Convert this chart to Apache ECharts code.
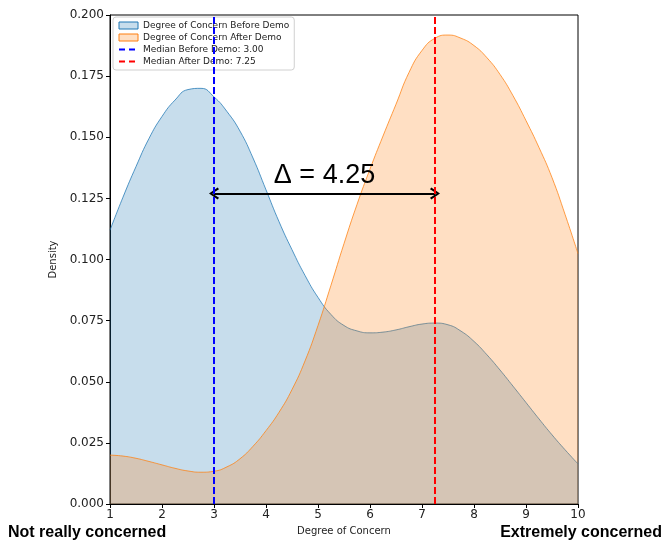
<!DOCTYPE html>
<html>
<head>
<meta charset="utf-8">
<script src="https://cdn.jsdelivr.net/npm/echarts@6/dist/echarts.min.js"></script>
<style>
html,body{margin:0;padding:0;background:#fff;}
#chart{width:663px;height:541px;}
</style>
</head>
<body>
<div id="chart"></div>
<script>
// Data
const concernLevels = [1, 1.25, 1.5, 1.75, 2, 2.25, 2.5, 2.75, 3, 3.25, 3.5, 3.75, 4, 4.25, 4.5, 4.75, 5, 5.25, 5.5, 5.75, 6, 6.25, 6.5, 6.75, 7, 7.25, 7.5, 7.75, 8, 8.25, 8.5, 8.75, 9, 9.25, 9.5, 9.75, 10];
const densityBefore = [0.1120, 0.1255, 0.1380, 0.1495, 0.1585, 0.1652, 0.1695, 0.1700, 0.1665, 0.1605, 0.1525, 0.1415, 0.1285, 0.1155, 0.1040, 0.0935, 0.0845, 0.0775, 0.0730, 0.0708, 0.0700, 0.0703, 0.0712, 0.0725, 0.0736, 0.0740, 0.0733, 0.0707, 0.0665, 0.0610, 0.0548, 0.0482, 0.0415, 0.0348, 0.0283, 0.0222, 0.0164];
const densityAfter  = [0.0200, 0.0196, 0.0187, 0.0174, 0.0160, 0.0146, 0.0135, 0.0130, 0.0134, 0.0152, 0.0185, 0.0236, 0.0300, 0.0375, 0.0468, 0.0585, 0.0730, 0.0895, 0.1065, 0.1225, 0.1370, 0.1505, 0.1635, 0.1765, 0.1855, 0.1905, 0.1918, 0.1905, 0.1875, 0.1825, 0.1757, 0.1670, 0.1568, 0.1458, 0.1335, 0.1185, 0.1024];
const medianBefore = 3.00;
const medianAfter = 7.25;
const deltaLabel = 'Δ = 4.25';
const arrowLevel = 0.127;
const seriesNames = ['Degree of Concern Before Demo', 'Degree of Concern After Demo', 'Median Before Demo: 3.00', 'Median After Demo: 7.25'];
const xRange = [1, 10];
const yRange = [0, 0.2];

const chart = echarts.init(document.getElementById('chart'));
const chevron = 'path://M5,0 L10,8 L8.6,9.2 L5,3 L1.4,9.2 L0,8 Z';

const option = {
  backgroundColor: '#fff',
  animation: false,
  textStyle: { fontFamily: 'DejaVu Sans', color: '#000' },
  grid: { left: 110, right: 85, top: 15, bottom: 34, show: true, borderColor: '#000', borderWidth: 1, backgroundColor: 'transparent' },
  legend: {
    left: 113, top: 17, orient: 'vertical',
    itemWidth: 19, itemHeight: 7, itemGap: 3,
    padding: [4, 5, 4, 5],
    borderColor: '#d0d0d0', borderWidth: 1, borderRadius: 3,
    backgroundColor: 'rgba(255,255,255,0.85)',
    textStyle: { fontSize: 9, fontFamily: 'DejaVu Sans', color: '#222' },
    data: [
      { name: seriesNames[0], icon: 'rect', itemStyle: { color: 'rgba(31,119,180,0.25)', borderColor: '#1f77b4', borderWidth: 1 } },
      { name: seriesNames[1], icon: 'rect', itemStyle: { color: 'rgba(255,127,14,0.25)', borderColor: '#ff7f0e', borderWidth: 1 } },
      { name: seriesNames[2], itemStyle: { opacity: 0 }, lineStyle: { color: '#0000ff', width: 2, type: [6, 4] } },
      { name: seriesNames[3], itemStyle: { opacity: 0 }, lineStyle: { color: '#ff0000', width: 2, type: [6, 4] } }
    ]
  },
  xAxis: {
    type: 'value', min: xRange[0], max: xRange[1], interval: 1,
    name: 'Degree of Concern', nameLocation: 'middle', nameGap: 22,
    nameTextStyle: { fontSize: 10, color: '#222' },
    axisLine: { show: true, lineStyle: { color: '#000' } },
    axisTick: { show: true, length: 4, lineStyle: { color: '#000' } },
    axisLabel: { fontSize: 12, color: '#222', margin: 5 },
    splitLine: { show: false }
  },
  yAxis: {
    type: 'value', min: yRange[0], max: yRange[1], interval: 0.025,
    name: 'Density', nameLocation: 'middle', nameGap: 40,
    nameTextStyle: { fontSize: 10, color: '#222' },
    axisLine: { show: true, lineStyle: { color: '#000' } },
    axisTick: { show: true, length: 4, lineStyle: { color: '#000' } },
    axisLabel: { fontSize: 12, color: '#222', margin: 6, formatter: v => v.toFixed(3) },
    splitLine: { show: false }
  },
  series: [
    {
      name: seriesNames[0], type: 'line', smooth: 0.5, symbol: 'none',
      data: concernLevels.map((x, i) => [x, densityBefore[i]]),
      itemStyle: { color: '#1f77b4' },
      lineStyle: { color: 'rgba(31,119,180,0.75)', width: 1 },
      areaStyle: { color: 'rgba(31,119,180,0.25)', opacity: 1, origin: 'start' },
      z: 2
    },
    {
      name: seriesNames[1], type: 'line', smooth: 0.5, symbol: 'none',
      data: concernLevels.map((x, i) => [x, densityAfter[i]]),
      itemStyle: { color: '#ff7f0e' },
      lineStyle: { color: 'rgba(255,127,14,0.75)', width: 1 },
      areaStyle: { color: 'rgba(255,127,14,0.25)', opacity: 1, origin: 'start' },
      z: 3
    },
    {
      name: seriesNames[2], type: 'line', symbol: 'none',
      data: [[medianBefore, yRange[0]], [medianBefore, yRange[1]]],
      itemStyle: { color: '#0000ff' },
      lineStyle: { color: '#0000ff', width: 2, type: [7, 3] },
      z: 5,
      markLine: {
        silent: true, symbol: [chevron, chevron], symbolSize: [12, 10],
        lineStyle: { color: '#000', width: 2, type: 'solid' },
        itemStyle: { color: '#000' },
        label: { show: true, position: 'insideMiddleTop', formatter: deltaLabel, fontFamily: 'Liberation Sans', fontSize: 27, color: '#000', distance: 4 },
        data: [[{ coord: [medianBefore, arrowLevel] }, { coord: [medianAfter, arrowLevel] }]]
      }
    },
    {
      name: seriesNames[3], type: 'line', symbol: 'none',
      data: [[medianAfter, yRange[0]], [medianAfter, yRange[1]]],
      itemStyle: { color: '#ff0000' },
      lineStyle: { color: '#ff0000', width: 2, type: [7, 3] },
      z: 5
    }
  ],
  graphic: [
    { type: 'text', left: 8, top: 525, style: { text: 'Not really concerned', font: 'bold 16px "Liberation Sans"', fill: '#000' } },
    { type: 'text', right: 1, top: 525, style: { text: 'Extremely concerned', font: 'bold 16px "Liberation Sans"', fill: '#000' } }
  ]
};
chart.setOption(option);
</script>
</body>
</html>
